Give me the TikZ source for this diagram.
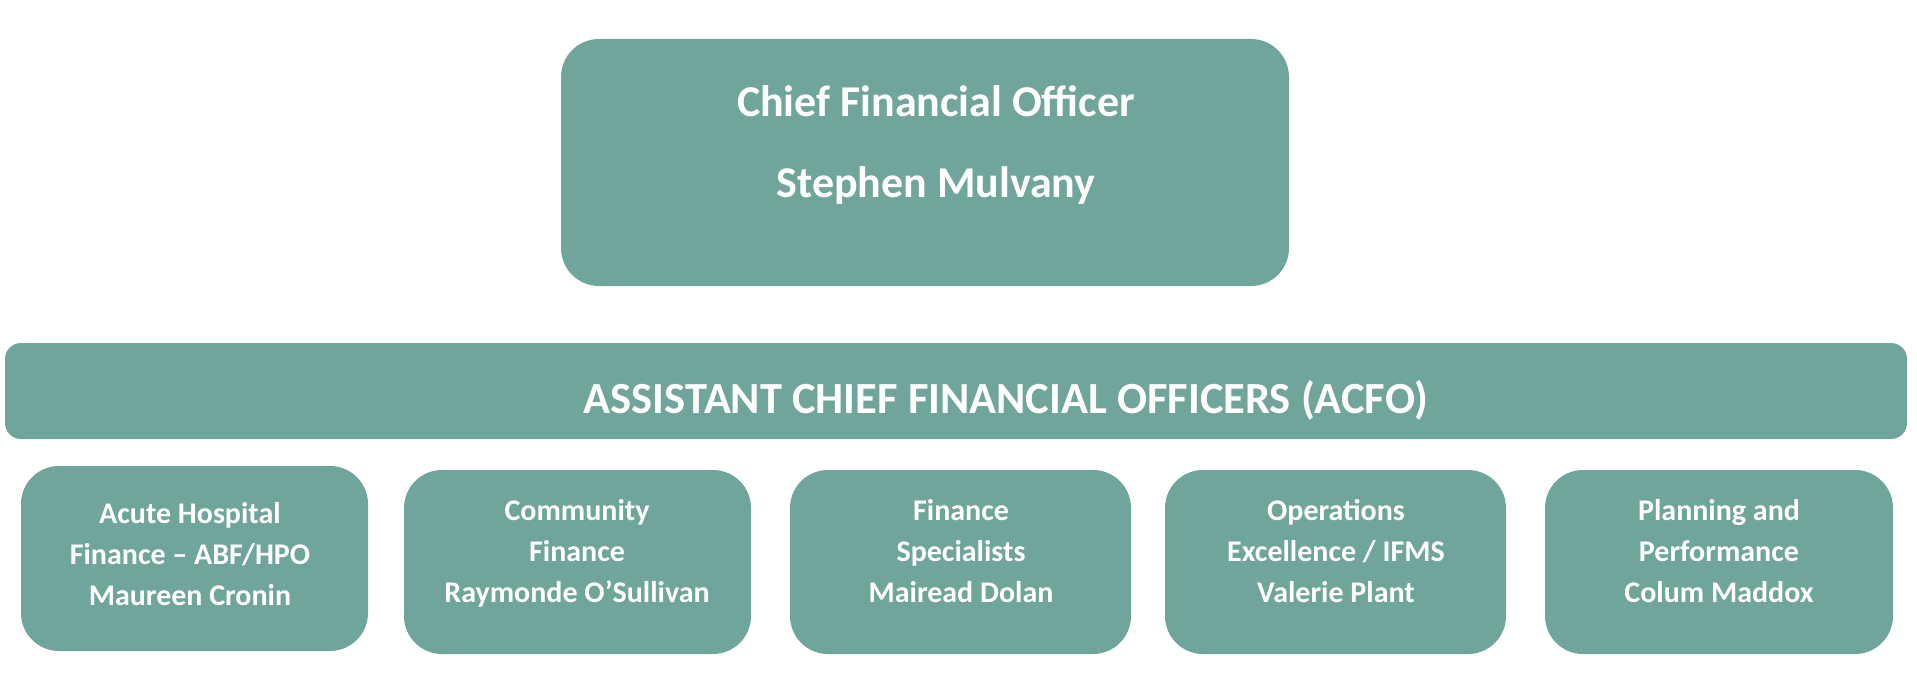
\documentclass[tikz,border=0pt]{standalone}
\usepackage{fontspec}
\setmainfont{Carlito}
\definecolor{teal1}{RGB}{112,165,155}
\begin{document}
\begin{tikzpicture}[x=1pt,y=-1pt,
  shapebox/.style={fill=teal1, draw=none, rectangle, inner sep=0pt},
  toptext/.style={text=white, align=center, font=\fontsize{44}{81}\selectfont\bfseries},
  bartext/.style={text=white, font=\fontsize{44.5}{54}\selectfont\bfseries},
  smalltext/.style={text=white, align=center, font=\fontsize{30}{41}\selectfont\bfseries}
]
\useasboundingbox (0,0) rectangle (1917,682);
% CFO box
\node[shapebox, rounded corners=38pt, minimum width=728pt, minimum height=247pt] (cfo) at (925,162.5) {};
\node[toptext, anchor=base] (cfot) at (936,197) {Chief Financial Officer\\Stephen Mulvany};
% ACFO bar
\node[shapebox, rounded corners=16pt, minimum width=1902pt, minimum height=96pt] (acfo) at (956,391) {};
\node[bartext, anchor=base] (acfot) at (1006,413) {ASSISTANT CHIEF FINANCIAL OFFICERS (ACFO)};
% bottom boxes
\node[shapebox, rounded corners=38pt, minimum width=347pt, minimum height=185pt] (b1) at (194.5,558.5) {};
\node[shapebox, rounded corners=38pt, minimum width=347pt, minimum height=184pt] (b2) at (577.5,562) {};
\node[shapebox, rounded corners=38pt, minimum width=341pt, minimum height=184pt] (b3) at (960.5,562) {};
\node[shapebox, rounded corners=38pt, minimum width=341pt, minimum height=184pt] (b4) at (1335.5,562) {};
\node[shapebox, rounded corners=38pt, minimum width=348pt, minimum height=184pt] (b5) at (1719,562) {};
\node[smalltext, anchor=base] (b1t) at (190,605) {Acute Hospital\\Finance – ABF/HPO\\Maureen Cronin};
\node[smalltext, anchor=base] (b2t) at (577,602) {Community\\Finance\\Raymonde O’Sullivan};
\node[smalltext, anchor=base] (b3t) at (961,602) {Finance\\Specialists\\Mairead Dolan};
\node[smalltext, anchor=base] (b4t) at (1336,602) {Operations\\Excellence / IFMS\\Valerie Plant};
\node[smalltext, anchor=base] (b5t) at (1719,602) {Planning and\\Performance\\Colum Maddox};
\end{tikzpicture}
\end{document}
